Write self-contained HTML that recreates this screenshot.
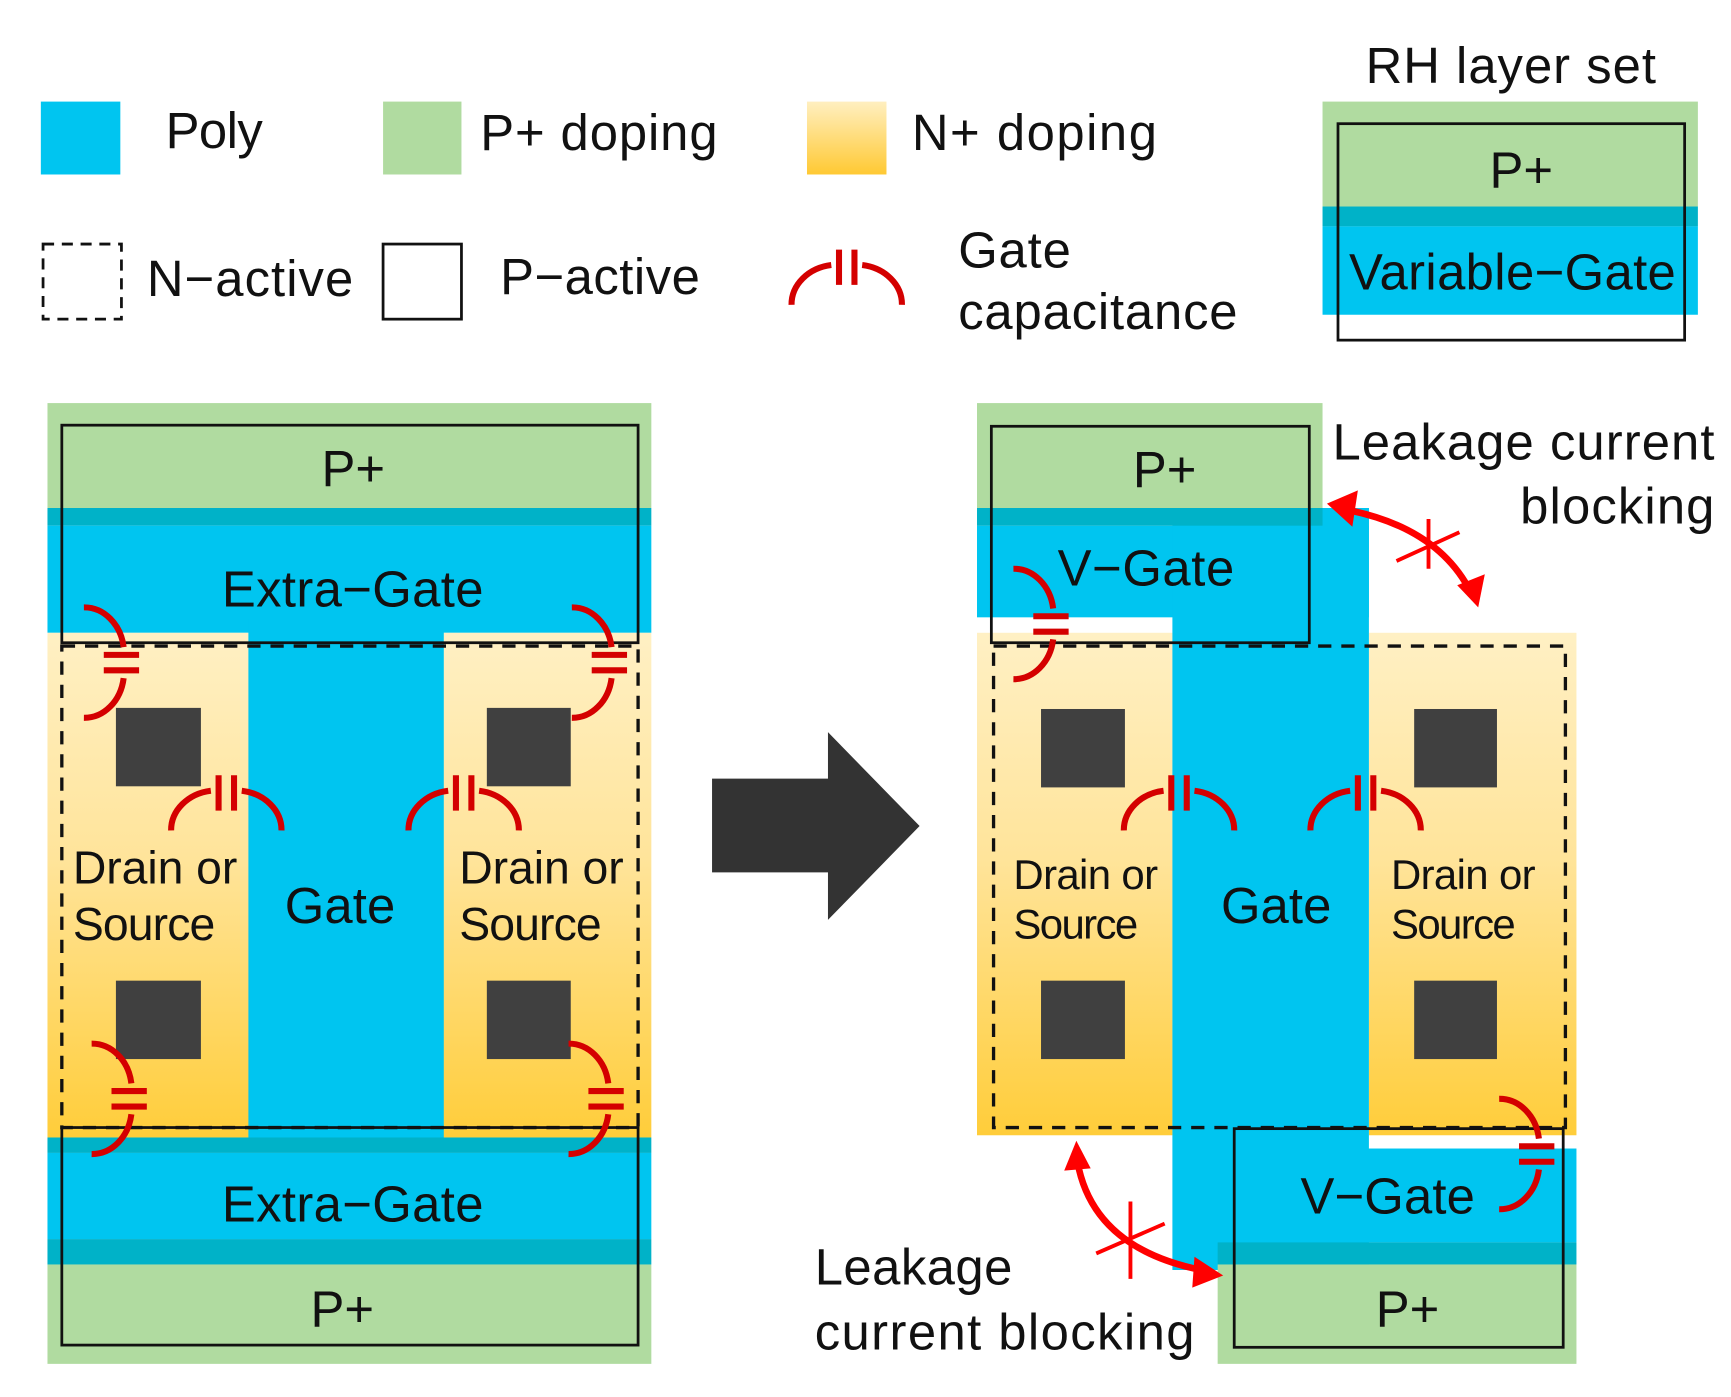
<!DOCTYPE html>
<html><head><meta charset="utf-8"><style>
html,body{margin:0;padding:0;background:#fff;}
svg{display:block;}
text{font-family:"Liberation Sans",sans-serif;fill:#111;}
</style></head><body>
<svg width="1731" height="1397" viewBox="0 0 1568 1265" preserveAspectRatio="none" xmlns="http://www.w3.org/2000/svg">
<defs>
<linearGradient id="ny" x1="0" y1="0" x2="0" y2="1">
<stop offset="0" stop-color="#fff0c4"/><stop offset="0.45" stop-color="#ffe49a"/><stop offset="1" stop-color="#ffcd3a"/>
</linearGradient>
<linearGradient id="ny2" x1="0" y1="0" x2="0" y2="1">
<stop offset="0" stop-color="#ffefc0"/><stop offset="1" stop-color="#ffc933"/>
</linearGradient>
<g id="cap" fill="none" stroke="#d40000" stroke-width="5.5">
<path d="M-50,32 A42,36 0 0 1 -14,-4"/>
<path d="M14,-4 A42,36 0 0 1 50,32"/>
<path d="M-7,-18 V14 M7,-18 V14"/>
</g>
</defs>

<!-- Legend -->
<rect x="37" y="92" width="72" height="66" fill="#00c5f0"/>
<text x="150" y="134" font-size="46" textLength="88">Poly</text>
<rect x="347" y="92" width="71" height="66" fill="#b0dba0"/>
<text x="435" y="136" font-size="46" textLength="215">P+ doping</text>
<rect x="731" y="92" width="72" height="66" fill="url(#ny2)"/>
<text x="826" y="136" font-size="46" textLength="222">N+ doping</text>
<rect x="39" y="221" width="71" height="68" fill="none" stroke="#111" stroke-width="2.5" stroke-dasharray="10,7"/>
<text x="133" y="268" font-size="46" textLength="187">N−active</text>
<rect x="347" y="221" width="71" height="68" fill="none" stroke="#111" stroke-width="2.5"/>
<text x="453" y="266" font-size="46" textLength="181">P−active</text>
<use href="#cap" transform="translate(767,244)"/>
<text x="868" y="242" font-size="46" textLength="102">Gate</text>
<text x="868" y="298" font-size="46" textLength="253">capacitance</text>
<text x="1237" y="75" font-size="46" textLength="263">RH layer set</text>
<rect x="1198" y="92" width="340" height="95" fill="#b0dba0"/>
<rect x="1198" y="187" width="340" height="18" fill="#00b2c8"/>
<rect x="1198" y="205" width="340" height="80" fill="#00c5f0"/>
<rect x="1212" y="112" width="314" height="196" fill="none" stroke="#111" stroke-width="2.5"/>
<text x="1378" y="170" font-size="46" text-anchor="middle">P+</text>
<text x="1222" y="262" font-size="46" textLength="296">Variable−Gate</text>

<!-- Left structure -->
<rect x="43" y="365" width="547" height="95" fill="#b0dba0"/>
<rect x="43" y="460" width="547" height="16" fill="#00b2c8"/>
<rect x="43" y="476" width="547" height="97" fill="#00c5f0"/>
<rect x="43" y="573" width="547" height="457" fill="url(#ny)"/>
<rect x="225" y="560" width="177" height="480" fill="#00c5f0"/>
<rect x="43" y="1030" width="547" height="14" fill="#00b2c8"/>
<rect x="43" y="1044" width="547" height="78" fill="#00c5f0"/>
<rect x="43" y="1122" width="547" height="23" fill="#00b2c8"/>
<rect x="43" y="1145" width="547" height="90" fill="#b0dba0"/>
<rect x="56" y="385" width="522" height="197" fill="none" stroke="#111" stroke-width="2.5"/>
<rect x="56" y="1021" width="522" height="197" fill="none" stroke="#111" stroke-width="2.5"/>
<rect x="56" y="585" width="522" height="436" fill="none" stroke="#111" stroke-width="3" stroke-dasharray="12,9"/>
<g fill="#404040">
<rect x="105" y="641" width="77" height="71"/><rect x="441" y="641" width="76" height="71"/>
<rect x="105" y="888" width="77" height="71"/><rect x="441" y="888" width="76" height="71"/>
</g>
<text x="320" y="440" font-size="46" text-anchor="middle">P+</text>
<text x="201" y="549" font-size="46" textLength="237">Extra−Gate</text>
<text x="258" y="836" font-size="46" textLength="100">Gate</text>
<text x="66" y="800" font-size="42" textLength="149">Drain or</text>
<text x="66" y="851" font-size="42" textLength="129">Source</text>
<text x="416" y="800" font-size="42" textLength="149">Drain or</text>
<text x="416" y="851" font-size="42" textLength="129">Source</text>
<text x="201" y="1106" font-size="46" textLength="237">Extra−Gate</text>
<text x="310" y="1201" font-size="46" text-anchor="middle">P+</text>
<use href="#cap" transform="translate(205,720)"/>
<use href="#cap" transform="translate(420,720)"/>
<use href="#cap" transform="translate(108,600) rotate(90)"/>
<use href="#cap" transform="translate(550,600) rotate(90)"/>
<use href="#cap" transform="translate(115,995) rotate(90)"/>
<use href="#cap" transform="translate(547,995) rotate(90)"/>

<!-- Arrow -->
<path d="M645,705 H750 V663 L833,748 L750,833 V790 H645 Z" fill="#333"/>

<!-- Right structure -->
<rect x="885" y="365" width="313" height="95" fill="#b0dba0"/>
<rect x="885" y="476" width="355" height="83" fill="#00c5f0"/>
<rect x="1198" y="460" width="42" height="20" fill="#00c5f0"/>
<rect x="885" y="573" width="177" height="455" fill="url(#ny)"/>
<rect x="1240" y="573" width="188" height="455" fill="url(#ny)"/>
<rect x="1062" y="460" width="178" height="690" fill="#00c5f0"/>
<rect x="885" y="460" width="313" height="16" fill="#00b2c8"/>
<rect x="1105" y="1040" width="323" height="85" fill="#00c5f0"/>
<rect x="1103" y="1125" width="325" height="20" fill="#00b2c8"/>
<rect x="1103" y="1145" width="325" height="90" fill="#b0dba0"/>
<rect x="898" y="386" width="288" height="196" fill="none" stroke="#111" stroke-width="2.5"/>
<rect x="1118" y="1022" width="298" height="198" fill="none" stroke="#111" stroke-width="2.5"/>
<rect x="900" y="585" width="518" height="436" fill="none" stroke="#111" stroke-width="3" stroke-dasharray="12,9"/>
<g fill="#404040">
<rect x="943" y="642" width="76" height="71"/><rect x="1281" y="642" width="75" height="71"/>
<rect x="943" y="888" width="76" height="71"/><rect x="1281" y="888" width="75" height="71"/>
</g>
<text x="1055" y="441" font-size="46" text-anchor="middle">P+</text>
<text x="958" y="530" font-size="46" textLength="160">V−Gate</text>
<text x="1106" y="836" font-size="46" textLength="100">Gate</text>
<text x="918" y="805" font-size="38" textLength="131">Drain or</text>
<text x="918" y="850" font-size="38" textLength="113">Source</text>
<text x="1260" y="805" font-size="38" textLength="131">Drain or</text>
<text x="1260" y="850" font-size="38" textLength="113">Source</text>
<text x="1178" y="1099" font-size="46" textLength="158">V−Gate</text>
<text x="1275" y="1201" font-size="46" text-anchor="middle">P+</text>
<use href="#cap" transform="translate(1068,720)"/>
<use href="#cap" transform="translate(1237,720)"/>
<use href="#cap" transform="translate(950,565) rotate(90)"/>
<use href="#cap" transform="translate(1390,1045) rotate(90)"/>

<text x="1207" y="416" font-size="46" textLength="346">Leakage current</text>
<text x="1377" y="474" font-size="46" textLength="176">blocking</text>
<text x="738" y="1163" font-size="46" textLength="179">Leakage</text>
<text x="738" y="1222" font-size="46" textLength="344">current blocking</text>

<g stroke="#f00" stroke-width="6" fill="none">
<path d="M1222,462 Q1300,478 1330,532"/>
<path d="M976,1052 Q990,1130 1088,1150"/>
</g>
<g fill="#f00">
<polygon points="1202,456 1230,444 1225,477"/>
<polygon points="1339,550 1320,530 1345,520"/>
<polygon points="975,1033 964,1060 988,1058"/>
<polygon points="1108,1155 1082,1138 1080,1166"/>
</g>
<g stroke="#f00" stroke-width="3.5">
<path d="M1294,470 V515 M1265,508 L1322,482"/>
<path d="M1024,1088 V1158 M993,1135 L1055,1108"/>
</g>
</svg>
</body></html>
